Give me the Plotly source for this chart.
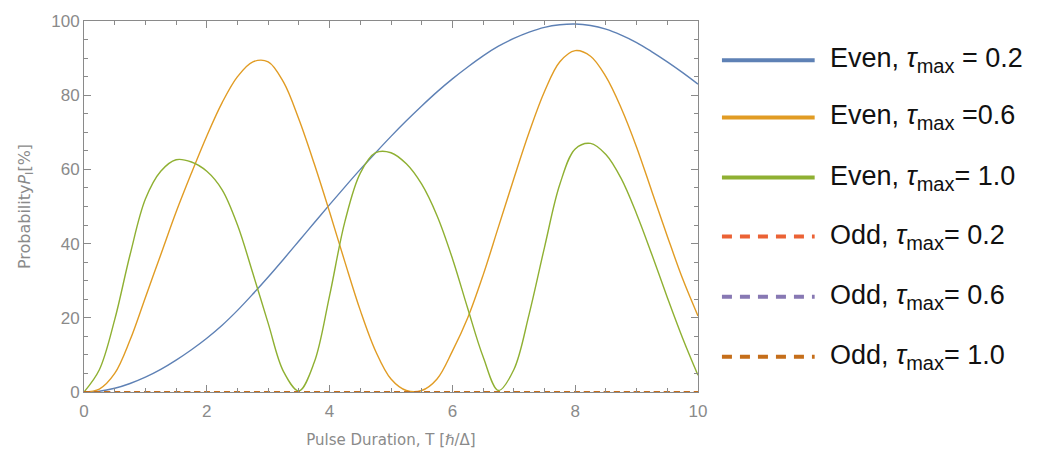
import plotly.graph_objects as go

# ---- data ----
T = [0, 0.25, 0.5, 0.75, 1, 1.25, 1.5, 1.75, 2, 2.25, 2.5, 2.75, 3, 3.25, 3.5, 3.75,
     4, 4.25, 4.5, 4.75, 5, 5.25, 5.5, 5.75, 6, 6.25, 6.5, 6.75, 7, 7.25, 7.5, 7.75,
     8, 8.25, 8.5, 8.75, 9, 9.25, 9.5, 9.75, 10]

even_02 = [0, 0.2, 1, 2.3, 4, 6.1, 8.6, 11.4, 14.5, 18, 22, 26.4, 31, 35.8, 40.7, 45.6,
           50.5, 55.3, 60, 64.5, 68.9, 73.1, 77.1, 80.9, 84.4, 87.6, 90.6, 93.2, 95.3, 97, 98.3, 99,
           99.2, 98.8, 97.8, 96.2, 94.2, 91.7, 89, 86.1, 83]

even_06 = [0, 0.8, 5, 14, 25.5, 37, 48.5, 59, 69, 78, 85, 89, 89, 83.5, 73.5, 61.5,
           48.5, 35, 22, 11, 3.5, 0.4, 0.4, 3.5, 11, 20, 31.5, 44.5, 57.5, 70, 81, 89,
           92, 90.5, 85, 76.5, 66, 54, 42, 30.5, 20.5]

even_10 = [0, 6, 19.5, 37, 52, 59.5, 62.6, 62, 59.5, 54.5, 45, 32, 18.5, 5.5, 0.3, 8,
           26, 46, 59, 64.5, 64.5, 61.5, 56, 47.5, 36, 22.5, 9.5, 0.4, 6, 21, 39, 56,
           65.5, 67, 64, 57.5, 48, 37, 25.5, 14.5, 4.5]

odd_T = [0, 2, 4, 6, 8, 10]
odd_02 = [0, 0, 0, 0, 0, 0]
odd_06 = [0, 0, 0, 0, 0, 0]
odd_10 = [0, 0, 0, 0, 0, 0]

SUB = "<sub><span style='font-size:20px'>max</span></sub>"
names = ["Even, <i>τ</i>" + SUB + " = 0.2", "Even, <i>τ</i>" + SUB + " =0.6",
         "Even, <i>τ</i>" + SUB + "= 1.0", "Odd, <i>τ</i>" + SUB + "= 0.2",
         "Odd, <i>τ</i>" + SUB + "= 0.6", "Odd, <i>τ</i>" + SUB + "= 1.0"]
colors = ["#5E81B5", "#E19C24", "#8FB032", "#EB6235", "#8778B3", "#C56E1A"]
dashed = [False, False, False, True, True, True]

series = [(T, even_02), (T, even_06), (T, even_10),
          (odd_T, odd_02), (odd_T, odd_06), (odd_T, odd_10)]

fig = go.Figure()
for (xs, ys), nm, col, dsh in zip(series, names, colors, dashed):
    fig.add_trace(go.Scatter(
        x=xs, y=ys, mode="lines", name=nm, showlegend=False,
        line=dict(color=col, width=1.4 if not dsh else 2, shape="spline", smoothing=1.0,
                  dash="6px,4px" if dsh else "solid"),
    ))

# ---- manual legend to the right of the plot ----
row_y = [0.894, 0.740, 0.578, 0.419, 0.257, 0.095]
for nm, col, dsh, yy in zip(names, colors, dashed, row_y):
    fig.add_shape(type="line", xref="paper", yref="paper",
                  x0=1.039, x1=1.19, y0=yy, y1=yy,
                  line=dict(color=col, width=4, dash="10px,8px" if dsh else "solid"))
    fig.add_annotation(xref="paper", yref="paper", x=1.212, y=yy,
                       xanchor="left", yanchor="middle", showarrow=False,
                       text=nm, font=dict(family="Arial, Liberation Sans", size=27, color="#111"))

GRAY = "#8a8a8a"
axis_common = dict(
    showline=True, linecolor=GRAY, linewidth=1, mirror="allticks",
    ticks="inside", ticklen=7, tickcolor=GRAY, tickwidth=1,
    showgrid=False, zeroline=False,
    tickfont=dict(family="Arial, Liberation Sans", size=17, color=GRAY),
)

fig.update_xaxes(range=[0, 10], tickvals=[0, 2, 4, 6, 8, 10], ticklabelstandoff=4,
                 minor=dict(dtick=0.5, ticks="inside", ticklen=4, tickcolor=GRAY),
                 title=dict(text="Pulse Duration, T [ℏ/Δ]", standoff=14,
                            font=dict(family="DejaVu Sans", size=15, color=GRAY)),
                 **axis_common)
fig.update_yaxes(range=[0, 100], tickvals=[0, 20, 40, 60, 80, 100],
                 minor=dict(dtick=5, ticks="inside", ticklen=4, tickcolor=GRAY),
                 title=dict(text="Probability<i>P</i><sub>I</sub>[%]", standoff=16,
                            font=dict(family="DejaVu Sans", size=16, color=GRAY)),
                 **axis_common)

fig.update_layout(
    width=1043, height=465,
    margin=dict(l=84, r=345, t=15, b=73),
    plot_bgcolor="white", paper_bgcolor="white",
)

fig.write_html("out.html")
